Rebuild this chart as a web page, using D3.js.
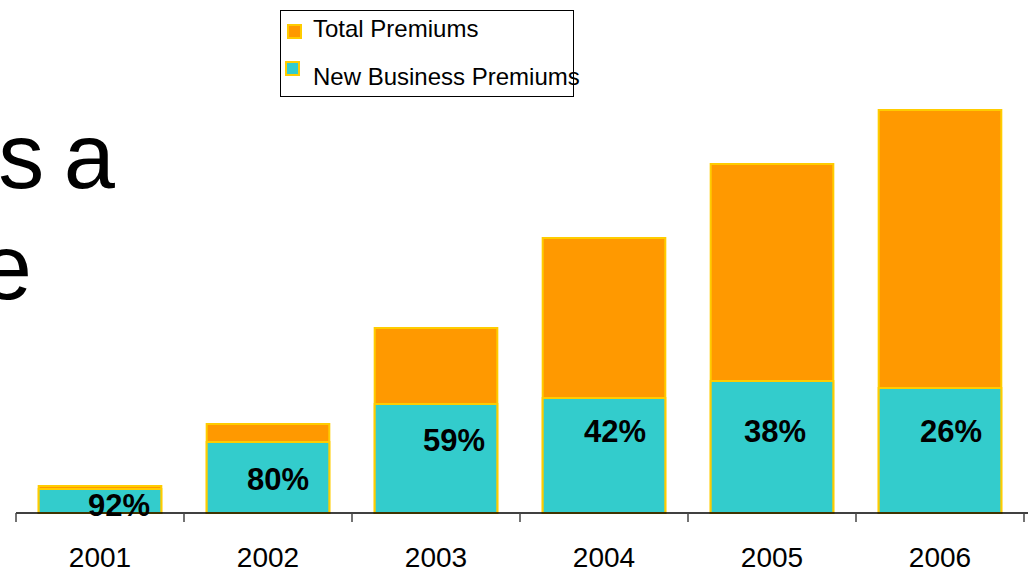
<!DOCTYPE html>
<html>
<head>
<meta charset="utf-8">
<script src="https://d3js.org/d3.v7.min.js"></script>
<style>
  body { margin: 0; background: #fff; }
  svg { display: block; font-family: "Liberation Sans", Arial, sans-serif; }
</style>
</head>
<body>
<script>
  // data (arbitrary units)
  var years = ["2001", "2002", "2003", "2004", "2005", "2006"]
  var totalPremiums = [27, 89, 185, 275, 349, 403]
  var newBusiness = [24, 71, 109, 115, 132, 125]
  var shareLabels = ["92%", "80%", "59%", "42%", "38%", "26%"]

  // label nudges (pixels) to match where the labels sit on each bar
  var labelDx = [19, 10, 18, 11, 3, 11]
  var labelDy = [0, 48, 47, 44, 61, 54]

  var width = 1028
  var height = 573
  var baseY = 513

  var svg = d3.select("body").append("svg")
              .attr("width", width)
              .attr("height", height)

  // leftover slide title text behind the chart
  svg.append("text").attr("x", 115).attr("y", 188)
     .attr("text-anchor", "end").attr("font-size", 92)
     .attr("word-spacing", -6)
     .text("ts a")
  svg.append("text").attr("x", 32).attr("y", 299)
     .attr("text-anchor", "end").attr("font-size", 92)
     .text("e")

  var x = d3.scaleBand()
            .domain(years)
            .range([16, 1024])
            .paddingInner(0.27)
            .paddingOuter(0.135)

  var y = d3.scaleLinear()
            .domain([0, 403])
            .range([baseY, 110])

  var g = svg.append("g")

  g.selectAll(".total")
   .data(years)
   .enter().append("rect")
   .attr("x", function(d) { return x(d) })
   .attr("y", function(d, i) { return y(totalPremiums[i]) })
   .attr("width", x.bandwidth())
   .attr("height", function(d, i) { return baseY - y(totalPremiums[i]) })
   .attr("fill", "#ff9900")
   .attr("stroke", "#ffcc00")
   .attr("stroke-width", 2)

  g.selectAll(".newbiz")
   .data(years)
   .enter().append("rect")
   .attr("x", function(d) { return x(d) })
   .attr("y", function(d, i) { return y(newBusiness[i]) })
   .attr("width", x.bandwidth())
   .attr("height", function(d, i) { return baseY - y(newBusiness[i]) })
   .attr("fill", "#33cccc")
   .attr("stroke", "#ffcc00")
   .attr("stroke-width", 2)

  // axis
  var axis = d3.axisBottom(x).tickSize(0).tickPadding(34)
  var ax = svg.append("g").attr("transform", "translate(0," + baseY + ")").call(axis)
  ax.select(".domain").remove()
  ax.selectAll("text").attr("font-size", 28).attr("fill", "#000")
    .attr("font-family", "Liberation Sans, Arial, sans-serif")
  ax.append("line").attr("x1", 16).attr("x2", 1028).attr("y1", 0).attr("y2", 0)
    .attr("stroke", "#000").attr("stroke-width", 1.5)
  var bounds = years.map(function(d) { return x(d) - x.step() * x.paddingInner() / 2 })
  bounds.push(x(years[years.length - 1]) + x.bandwidth() + x.step() * x.paddingInner() / 2)
  ax.selectAll(".sep").data(bounds).enter().append("line")
    .attr("x1", function(d) { return d }).attr("x2", function(d) { return d })
    .attr("y1", 0).attr("y2", 9)
    .attr("stroke", "#444").attr("stroke-width", 1.5)

  // share labels
  g.selectAll(".lbl")
   .data(years)
   .enter().append("text")
   .attr("x", function(d, i) { return x(d) + x.bandwidth() / 2 + labelDx[i] })
   .attr("y", function(d, i) { return i === 0 ? 516 : y(newBusiness[i]) + labelDy[i] })
   .attr("text-anchor", "middle")
   .attr("font-size", 31)
   .attr("font-weight", "bold")
   .text(function(d, i) { return shareLabels[i] })

  // legend
  var leg = svg.append("g")
  leg.append("rect").attr("x", 280.5).attr("y", 10.5).attr("width", 293).attr("height", 86)
     .attr("fill", "#fff").attr("stroke", "#000").attr("stroke-width", 1)
  leg.append("rect").attr("x", 288).attr("y", 25).attr("width", 13).attr("height", 13)
     .attr("fill", "#ff9900").attr("stroke", "#ffcc00").attr("stroke-width", 2)
  leg.append("rect").attr("x", 286).attr("y", 62).attr("width", 13).attr("height", 13)
     .attr("fill", "#33cccc").attr("stroke", "#ffcc00").attr("stroke-width", 2)
  leg.append("text").attr("x", 313).attr("y", 37).attr("font-size", 24).text("Total Premiums")
  leg.append("text").attr("x", 313).attr("y", 85).attr("font-size", 24).text("New Business Premiums")
</script>
</body>
</html>
